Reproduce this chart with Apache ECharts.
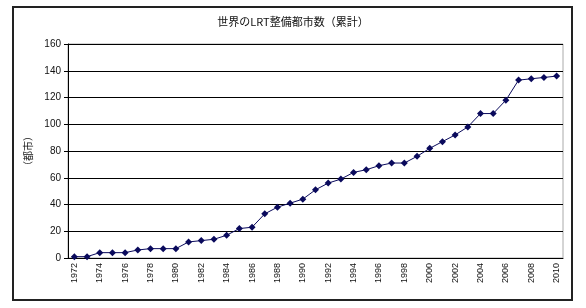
<!DOCTYPE html>
<html>
<head>
<meta charset="utf-8">
<script src="https://cdn.jsdelivr.net/npm/echarts@6/dist/echarts.min.js"></script>
<style>
  html, body { margin: 0; padding: 0; background: #fff; }
  #chart { width: 586px; height: 308px; }
</style>
</head>
<body>
<div id="chart"></div>
<script>
// 年（1972〜2010）
const years = ['1972','1973','1974','1975','1976','1977','1978','1979','1980','1981',
  '1982','1983','1984','1985','1986','1987','1988','1989','1990','1991',
  '1992','1993','1994','1995','1996','1997','1998','1999','2000','2001',
  '2002','2003','2004','2005','2006','2007','2008','2009','2010']
// 累計都市数
const cities = [1, 1, 4, 4, 4, 6, 7, 7, 7, 12,
  13, 14, 17, 22, 23, 33, 38, 41, 44, 51,
  56, 59, 64, 66, 69, 71, 71, 76, 82, 87,
  92, 98, 108, 108, 118, 133, 134, 135, 136]
const yTicks = [0, 20, 40, 60, 80, 100, 120, 140, 160]

const font = '"Liberation Sans", "Noto Sans CJK JP", sans-serif'
const chart = echarts.init(document.getElementById('chart'))

chart.setOption({
  animation: false,
  textStyle: { fontFamily: font },
  title: {
    text: '世界のLRT整備都市数（累計）',
    left: 'center',
    top: 11,
    textStyle: { fontSize: 11, fontWeight: 'normal', color: '#111', fontFamily: '"Noto Sans CJK JP", sans-serif' }
  },
  graphic: [{
    type: 'rect',
    shape: { x: 13, y: 7, width: 559, height: 293 },
    style: { fill: 'none', stroke: '#222', lineWidth: 2 },
    z: 100
  }],
  grid: {
    left: 68,
    right: 23,
    top: 44,
    bottom: 50,
    show: true,
    borderColor: '#aaa',
    borderWidth: 1
  },
  xAxis: {
    type: 'category',
    data: years,
    boundaryGap: true,
    axisLine: { lineStyle: { color: '#000', width: 1 } },
    axisTick: { inside: true, length: 3, lineStyle: { color: '#000' } },
    axisLabel: { rotate: 90, interval: 1, fontSize: 9, color: '#111', margin: 5 }
  },
  yAxis: {
    type: 'value',
    min: yTicks[0],
    max: yTicks[yTicks.length - 1],
    interval: 20,
    name: '（都市）',
    nameLocation: 'middle',
    nameRotate: 90,
    nameGap: 22,
    nameTextStyle: { fontSize: 10, color: '#111', fontFamily: '"Noto Sans CJK JP", sans-serif' },
    axisLine: { show: true, lineStyle: { color: '#000' } },
    axisTick: { show: true, length: 4, lineStyle: { color: '#000' } },
    axisLabel: { fontSize: 10, color: '#111', margin: 7 },
    splitLine: { lineStyle: { color: '#000', width: 1 } }
  },
  series: [{
    type: 'line',
    data: cities,
    symbol: 'diamond',
    symbolSize: 7,
    lineStyle: { color: '#0a0a5c', width: 1 },
    itemStyle: { color: '#0a0a5c' }
  }]
})
</script>
</body>
</html>
